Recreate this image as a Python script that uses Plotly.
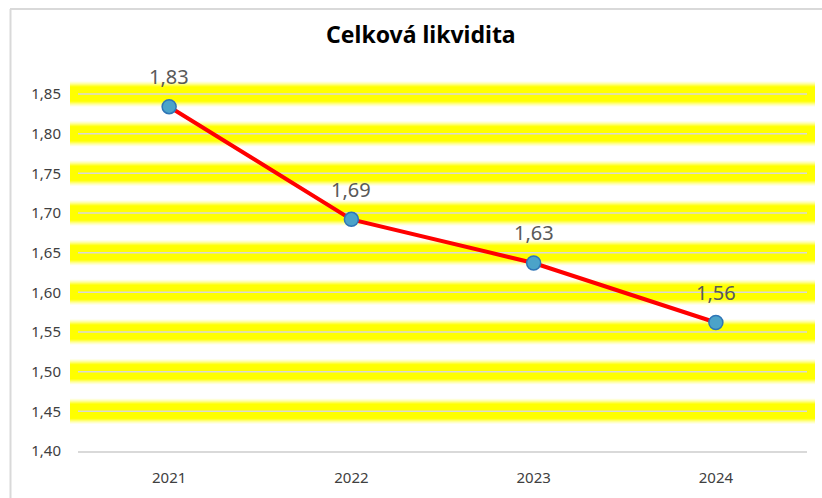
import plotly.graph_objects as go

years = ["2021", "2022", "2023", "2024"]
values = [1.834, 1.692, 1.637, 1.562]
labels = ["1,83", "1,69", "1,63", "1,56"]
y_ticks = [1.40, 1.45, 1.50, 1.55, 1.60, 1.65, 1.70, 1.75, 1.80, 1.85]
title_text = "Celková likvidita"

FONT = "Noto Sans"

fig = go.Figure()

fig.add_trace(go.Scatter(
    x=years, y=values, mode="lines+markers",
    line=dict(color="#FF0000", width=4),
    marker=dict(size=14, color="#4BA3C9", line=dict(color="#2E75B6", width=1.5)),
    cliponaxis=False, showlegend=False,
))

for i, (yv, t) in enumerate(zip(values, labels)):
    fig.add_annotation(x=i, y=yv, xref="x", yref="y", text=t, showarrow=False, yshift=30,
                       font=dict(family=FONT, size=20, color="#595959"))

shapes = []
ext = 8 / 729
glow = [(25, "rgba(255,255,0,0.12)"), (23, "rgba(255,255,0,0.15)"), (21, "rgba(255,255,0,0.22)"),
        (19, "rgba(255,255,0,0.35)"), (17, "rgba(255,255,0,0.55)"), (15, "rgba(255,255,0,1)")]
for v in y_ticks:
    if v > 1.40:
        for w, c in glow:
            shapes.append(dict(type="line", xref="paper", yref="y", x0=-ext, x1=1 + ext,
                               y0=v, y1=v, line=dict(color=c, width=w), layer="below"))
        shapes.append(dict(type="line", xref="paper", yref="y", x0=0, x1=1,
                           y0=v, y1=v, line=dict(color="#D9D9D9", width=1.5), layer="below"))

# chart frame (top and left edges)
shapes.append(dict(type="line", xref="paper", yref="paper", x0=-68/729, x1=1.1,
                   y0=1 + 69/373, y1=1 + 69/373, line=dict(color="#D9D9D9", width=2)))
shapes.append(dict(type="line", xref="paper", yref="paper", x0=-67.5/729, x1=-67.5/729,
                   y0=-0.2, y1=1 + 69/373, line=dict(color="#D9D9D9", width=2)))

fig.update_layout(
    width=822, height=498,
    margin=dict(l=78, r=15, t=78, b=47, autoexpand=False),
    paper_bgcolor="white", plot_bgcolor="white",
    separators=",.",
    shapes=shapes,
    title=dict(text="<b>" + title_text + "</b>", x=0.512, xref="container", xanchor="center",
               y=1 - 35/498, yref="container", yanchor="middle",
               font=dict(family=FONT, size=23, color="#000000")),
    font=dict(family=FONT),
)

fig.update_xaxes(
    type="category", range=[-0.5, 3.5], automargin=False,
    showgrid=False, showline=True, linecolor="#D9D9D9", linewidth=1.5,
    ticks="", ticklabelstandoff=12,
    tickfont=dict(family=FONT, size=15, color="#404040"),
)
fig.update_yaxes(
    range=[1.40, 1.40 + 0.45 * 373 / 357], tickvals=y_ticks, tickformat=".2f", automargin=False,
    showgrid=False, zeroline=False, showline=False, ticks="", ticklabelstandoff=16,
    tickfont=dict(family=FONT, size=15, color="#404040"),
)

fig.write_html("out.html", config={"displayModeBar": False},
               post_script="document.body.style.margin='0';document.body.style.overflow='hidden';")
